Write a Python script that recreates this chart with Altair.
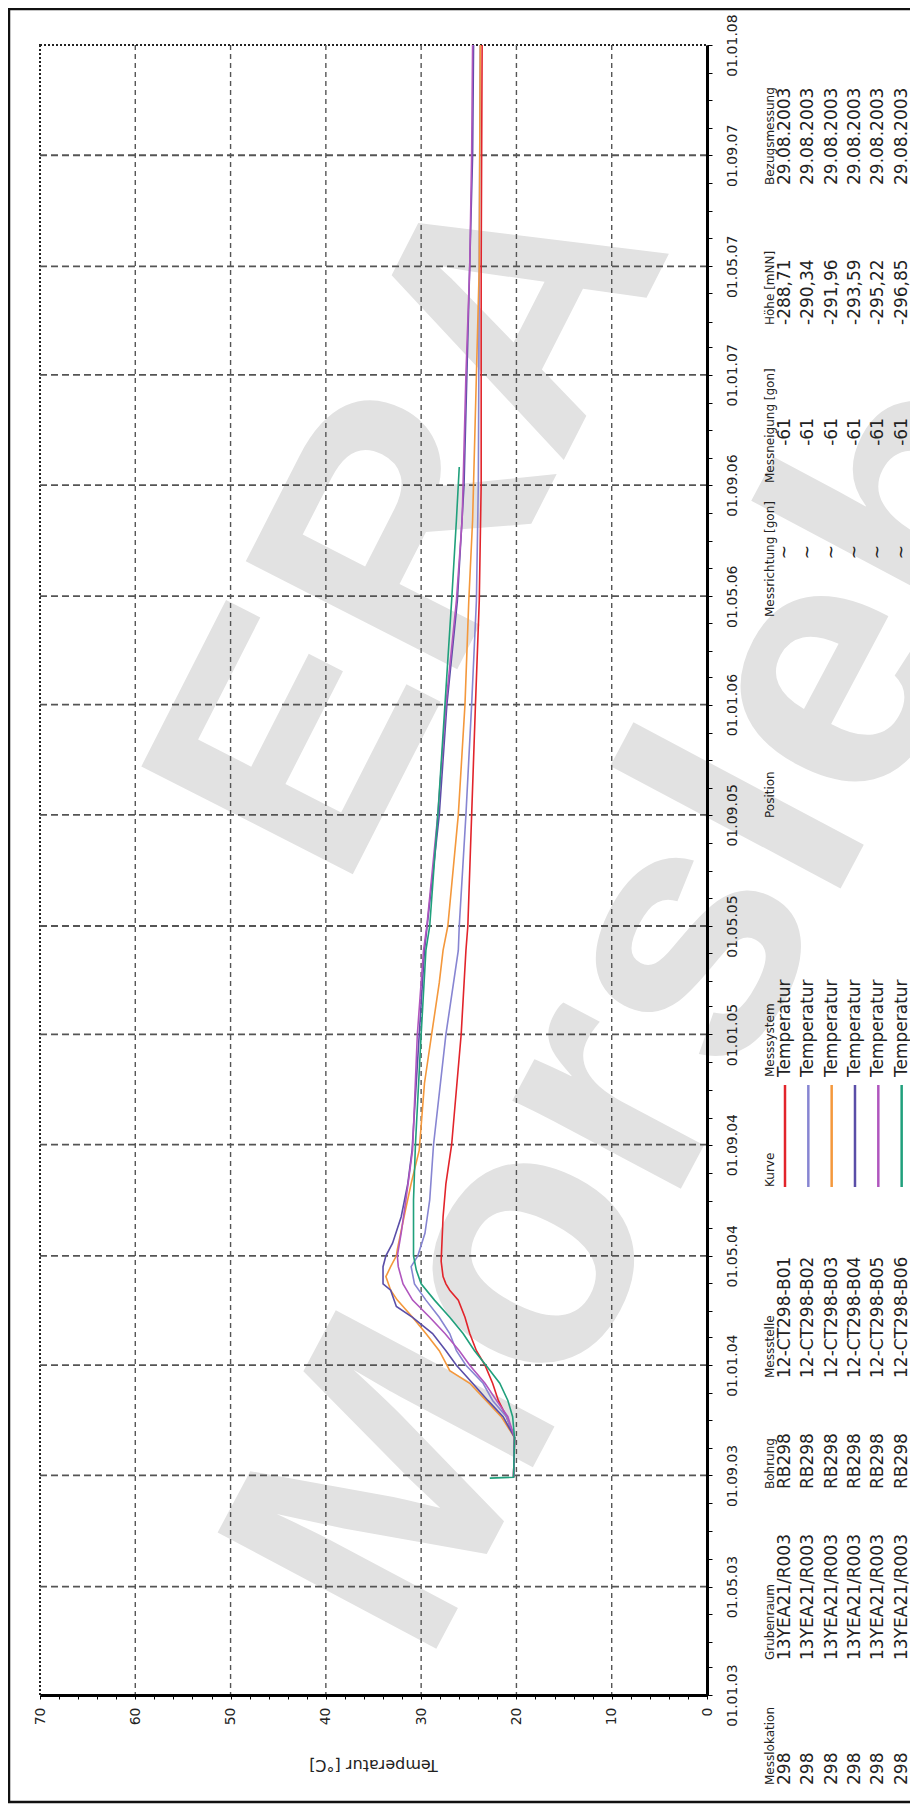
import altair as alt
import pandas as pd

# ---------------- data ----------------
SERIES = ["12-CT298-B01", "12-CT298-B02", "12-CT298-B03",
          "12-CT298-B04", "12-CT298-B05", "12-CT298-B06"]
COLORS = ["#e2242b", "#8785d2", "#f4983c", "#5a4ea8", "#b056be", "#20a07c"]

B01_DATES = ["2003-08-30", "2003-10-13", "2003-11-05", "2003-11-23", "2003-12-12", "2004-01-01",
             "2004-01-17", "2004-02-05", "2004-02-23", "2004-03-13", "2004-03-24", "2004-03-31",
             "2004-04-08", "2004-04-25", "2004-06-13", "2004-07-20", "2004-09-01", "2005-01-01",
             "2005-04-04", "2005-05-01", "2005-09-01", "2006-01-01", "2006-04-26", "2006-09-01",
             "2007-05-01", "2008-01-01"]
B01_TEMPS = [20.3, 20.2, 21.05, 21.9, 22.5, 23.3,
             24.2, 24.9, 25.4, 26.1, 27.0, 27.4,
             27.7, 27.9, 27.7, 27.4, 26.8, 25.8,
             25.3, 25.1, 24.7, 24.3, 23.9, 23.7,
             23.7, 23.6]

B02_DATES = ["2003-08-30", "2003-10-13", "2003-11-05", "2003-11-23", "2003-12-12", "2004-01-01",
             "2004-01-17", "2004-02-05", "2004-02-23", "2004-03-13", "2004-03-31", "2004-04-19",
             "2004-05-01", "2004-05-26", "2004-07-02", "2004-09-01", "2005-01-01", "2005-04-04",
             "2005-05-01", "2005-09-01", "2006-01-01", "2006-04-26", "2006-09-01", "2007-05-01",
             "2008-01-01"]
B02_TEMPS = [20.3, 20.2, 21.05, 22.5, 23.5, 25.3,
             26.3, 27.0, 28.1, 29.5, 30.7, 31.05,
             30.35, 29.6, 29.1, 28.7, 27.4, 26.1,
             26.0, 25.3, 24.7, 24.2, 24.0, 23.9,
             23.8]

B03_DATES = ["2003-08-30", "2003-10-13", "2003-11-05", "2003-11-23", "2003-12-12", "2003-12-26",
             "2004-01-01", "2004-01-17", "2004-02-05", "2004-02-23", "2004-03-13", "2004-03-24",
             "2004-04-08", "2004-04-19", "2004-05-01", "2004-05-08", "2004-06-13", "2004-07-20",
             "2004-08-26", "2004-11-08", "2005-01-01", "2005-02-27", "2005-04-04", "2005-05-01",
             "2005-09-01", "2006-01-01", "2006-04-26", "2006-07-24", "2007-01-01", "2007-05-01",
             "2008-01-01"]
B03_TEMPS = [20.3, 20.2, 21.6, 23.2, 24.9, 27.0,
             27.3, 28.1, 29.5, 30.9, 32.5, 33.2,
             33.7, 33.2, 32.6, 32.5, 31.8, 31.05,
             30.2, 29.65, 28.9, 28.1, 27.7, 27.2,
             26.1, 25.4, 25.0, 24.6, 24.2, 23.9,
             23.8]

B04_DATES = ["2003-08-30", "2003-10-13", "2003-11-05", "2003-11-23", "2003-12-12", "2004-01-01",
             "2004-01-17", "2004-02-05", "2004-02-23", "2004-03-06", "2004-03-24", "2004-03-31",
             "2004-04-19", "2004-05-01", "2004-05-15", "2004-06-13", "2004-07-20", "2004-08-26",
             "2005-01-01", "2005-04-04", "2005-09-01", "2006-01-01", "2006-04-26", "2006-09-01",
             "2007-01-01", "2007-09-01", "2008-01-01"]
B04_TEMPS = [20.3, 20.2, 21.4, 23.0, 24.6, 26.3,
             27.4, 28.8, 30.9, 32.6, 33.2, 34.0,
             34.0, 33.7, 33.0, 32.1, 31.4, 30.95,
             30.2, 29.65, 28.1, 27.3, 26.2, 25.5,
             25.2, 24.6, 24.5]

B05_DATES = ["2003-08-30", "2003-10-13", "2003-11-05", "2003-11-23", "2003-12-12", "2004-01-01",
             "2004-01-17", "2004-02-05", "2004-02-23", "2004-03-13", "2004-03-31", "2004-04-19",
             "2004-05-01", "2004-05-26", "2004-07-02", "2004-08-26", "2005-01-01", "2005-04-04",
             "2005-05-01", "2005-09-01", "2006-01-01", "2006-04-26", "2006-07-24", "2006-09-01",
             "2007-01-01", "2007-05-01", "2007-09-01", "2008-01-01"]
B05_TEMPS = [20.3, 20.2, 20.9, 22.1, 23.3, 24.9,
             26.0, 27.5, 29.1, 30.9, 31.9, 32.4,
             32.5, 32.1, 31.6, 30.9, 30.4, 29.75,
             29.4, 28.25, 27.4, 26.3, 25.7, 25.6,
             25.3, 24.9, 24.7, 24.6]

B06_DATES = ["2003-08-29", "2003-08-30", "2003-10-13", "2003-11-05", "2003-11-23", "2003-12-12",
             "2004-01-01", "2004-01-17", "2004-02-05", "2004-02-23", "2004-03-13", "2004-03-31",
             "2004-04-15", "2004-05-01", "2004-07-02", "2004-09-01", "2005-01-01", "2005-04-04",
             "2005-05-01", "2005-09-01", "2006-01-01", "2006-04-26", "2006-07-24", "2006-09-21"]
B06_TEMPS = [22.8, 20.3, 20.2, 20.4, 20.9, 21.75,
             23.2, 24.4, 25.6, 27.0, 28.6, 30.0,
             30.5, 30.8, 30.8, 30.6, 30.0, 29.5,
             29.1, 28.25, 27.5, 26.8, 26.3, 26.0]

# legend table (rotated, right of the plot)
MESSLOKATION = ["298"] * 6
GRUBENRAUM = ["13YEA21/R003"] * 6
BOHRUNG = ["RB298"] * 6
MESSSTELLE = SERIES
MESSSYSTEM = ["Temperatur"] * 6
MESSRICHTUNG = ["~"] * 6
MESSNEIGUNG = ["-61"] * 6
HOEHE = ["-288,71", "-290,34", "-291,96", "-293,59", "-295,22", "-296,85"]
BEZUGSMESSUNG = ["29.08.2003"] * 6
HEADERS = ["Messlokation", "Grubenraum", "Bohrung", "Messstelle", "Kurve", "Messsystem",
           "Position", "Messrichtung [gon]", "Messneigung [gon]", "Höhe [mNN]", "Bezugsmessung"]

WATERMARK = ["ERA", "Morsleben"]

# ---------------- layout (pixels, relative to the plot origin) ----------------
W, H = 667, 1650
OX, OY = 40, 45           # plot origin on the page
HEADER_X = 770 - OX
ROW_X = [785 - OX + i * 23.33 for i in range(6)]
COL_Y = {                  # text anchor along the (rotated) table
    "Messlokation": 1785, "Grubenraum": 1660, "Bohrung": 1489, "Messstelle": 1378,
    "Kurve": 1187, "Messsystem": 1077, "Position": 818, "Messrichtung [gon]": 617,
    "Messneigung [gon]": 483, "Höhe [mNN]": 325, "Bezugsmessung": 185,
}
FONT = "DejaVu Sans"

# ---------------- frames ----------------
series_data = [(SERIES[0], B01_DATES, B01_TEMPS), (SERIES[1], B02_DATES, B02_TEMPS),
               (SERIES[2], B03_DATES, B03_TEMPS), (SERIES[3], B04_DATES, B04_TEMPS),
               (SERIES[4], B05_DATES, B05_TEMPS), (SERIES[5], B06_DATES, B06_TEMPS)]
rows = []
for name, ds, ts in series_data:
    for d, t in zip(ds, ts):
        rows.append({"series": name, "date": d, "temp": t})
lines_df = pd.DataFrame(rows)
lines_df["date"] = pd.to_datetime(lines_df["date"])

header_df = pd.DataFrame([{"text": h, "px": HEADER_X, "py": COL_Y[h] - OY} for h in HEADERS])

left_rows = []
for key, vals in [("Messlokation", MESSLOKATION), ("Grubenraum", GRUBENRAUM),
                  ("Bohrung", BOHRUNG), ("Messstelle", MESSSTELLE),
                  ("Messsystem", MESSSYSTEM), ("Höhe [mNN]", HOEHE),
                  ("Bezugsmessung", BEZUGSMESSUNG)]:
    for i, v in enumerate(vals):
        left_rows.append({"text": v, "px": ROW_X[i], "py": COL_Y[key] - OY})
left_df = pd.DataFrame(left_rows)
right_df = pd.DataFrame([{"text": v, "px": ROW_X[i], "py": 418 - OY}
                         for i, v in enumerate(MESSNEIGUNG)])
center_df = pd.DataFrame([{"text": v, "px": ROW_X[i], "py": 552 - OY}
                          for i, v in enumerate(MESSRICHTUNG)])
legend_df = pd.DataFrame([{"series": s, "px": ROW_X[i], "py1": 1085 - OY, "py2": 1187 - OY}
                          for i, s in enumerate(SERIES)])

months = pd.date_range("2003-01-01", "2008-01-01", freq="MS")
grid_dates = pd.DataFrame({"date": [d for d in months if d.month in (1, 5, 9)][1:-1]})
grid_temps = pd.DataFrame({"t": [10, 20, 30, 40, 50, 60]})

# ---------------- scales / axes ----------------
x_scale = alt.Scale(domain=[0, 70], reverse=True, nice=False, zero=False)
y_scale = alt.Scale(domain=[alt.DateTime(year=2003, month=1, date=1),
                            alt.DateTime(year=2008, month=1, date=1)], nice=False)
color_scale = alt.Scale(domain=SERIES, range=COLORS)

x_axis = alt.Axis(values=list(range(0, 71, 2)),
                  labelExpr="datum.value % 10 == 0 ? datum.label : ''",
                  labelAngle=270, labelAlign="right", labelBaseline="middle",
                  labelFontSize=14, labelPadding=8, tickSize=4, labelOverlap=False,
                  labelFlush=False, domainWidth=3, domainColor="black", tickColor="black",
                  title="Temperatur [°C]", titleAngle=180, titleX=333, titleY=69,
                  titleAlign="center", titleBaseline="middle", titleFontSize=16,
                  titleFontWeight="normal", titleFont=FONT, titleColor="#222", grid=False,
                  zindex=1)
y_axis = alt.Axis(orient="right",
                  values=[alt.DateTime(year=d.year, month=d.month, date=1) for d in months],
                  labelExpr="month(datum.value) % 4 == 0 ? timeFormat(datum.value, '%d.%m.%y') : ''",
                  labelAngle=270, labelAlign="center", labelBaseline="top",
                  labelFontSize=14, labelPadding=13, tickSize=5, labelOverlap=False,
                  labelFlush=False, domainWidth=3, domainColor="black", tickColor="black",
                  title=None, grid=False, zindex=1)

# ---------------- layers ----------------
one = pd.DataFrame({"k": [0]})

wm_era = alt.Chart(pd.DataFrame({"text": [WATERMARK[0]]})).mark_text(
    angle=297, fontSize=345, font="Liberation Sans", fontWeight="bold",
    color="#e2e2e2", align="center", baseline="middle"
).encode(x=alt.value(375), y=alt.value(478), text="text:N")

wm_mors = alt.Chart(pd.DataFrame({"text": [WATERMARK[1]]})).mark_text(
    angle=298, fontSize=360, font="Liberation Sans", fontWeight="bold",
    color="#e2e2e2", align="left", baseline="alphabetic"
).encode(x=alt.value(385), y=alt.value(1625), text="text:N")

grid_d = alt.Chart(grid_dates).mark_rule(color="#555", strokeDash=[7, 4], strokeWidth=1.8).encode(
    y=alt.Y("date:T", scale=y_scale, axis=y_axis))
grid_t = alt.Chart(grid_temps).mark_rule(color="#555", strokeDash=[5, 4], strokeWidth=1.4).encode(
    x=alt.X("t:Q", scale=x_scale, axis=x_axis))

lines = alt.Chart(lines_df).mark_line(strokeWidth=1.6).encode(
    x=alt.X("temp:Q", scale=x_scale, axis=x_axis),
    y=alt.Y("date:T", scale=y_scale, axis=y_axis),
    color=alt.Color("series:N", scale=color_scale, legend=None),
    order=alt.Order("date:T"),
)


def text_layer(df, size, align):
    return alt.Chart(df).mark_text(angle=270, align=align, baseline="middle",
                                   fontSize=size, font=FONT, color="#222").encode(
        x=alt.X("px:Q", scale=None, axis=None),
        y=alt.Y("py:Q", scale=None, axis=None),
        text="text:N")


headers = text_layer(header_df, 12, "left")
cells_left = text_layer(left_df, 17, "left")
cells_right = text_layer(right_df, 17, "right")
cells_center = text_layer(center_df, 17, "center")

legend_rules = alt.Chart(legend_df).mark_rule(strokeWidth=2.5).encode(
    x=alt.X("px:Q", scale=None, axis=None),
    y=alt.Y("py1:Q", scale=None, axis=None),
    y2="py2:Q",
    color=alt.Color("series:N", scale=color_scale, legend=None),
)

frame = alt.Chart(one).mark_rect(filled=False, stroke="#111", strokeWidth=2.5).encode(
    x=alt.value(-31), x2=alt.value(900), y=alt.value(-36), y2=alt.value(1757))

chart = alt.layer(
    wm_era, wm_mors, grid_d, grid_t, lines, headers, cells_left, cells_right,
    cells_center, legend_rules, frame
).properties(
    width=W, height=H,
    padding={"left": 32, "top": 37, "right": 203, "bottom": 113},
    autosize=alt.AutoSizeParams(type="none"),
).configure(font=FONT).configure_view(
    stroke="#222", strokeDash=[2, 2], strokeWidth=2
).configure_axis(labelFont=FONT, labelColor="#222")

chart.save("out.html", embed_options={"renderer": "svg", "actions": False})
